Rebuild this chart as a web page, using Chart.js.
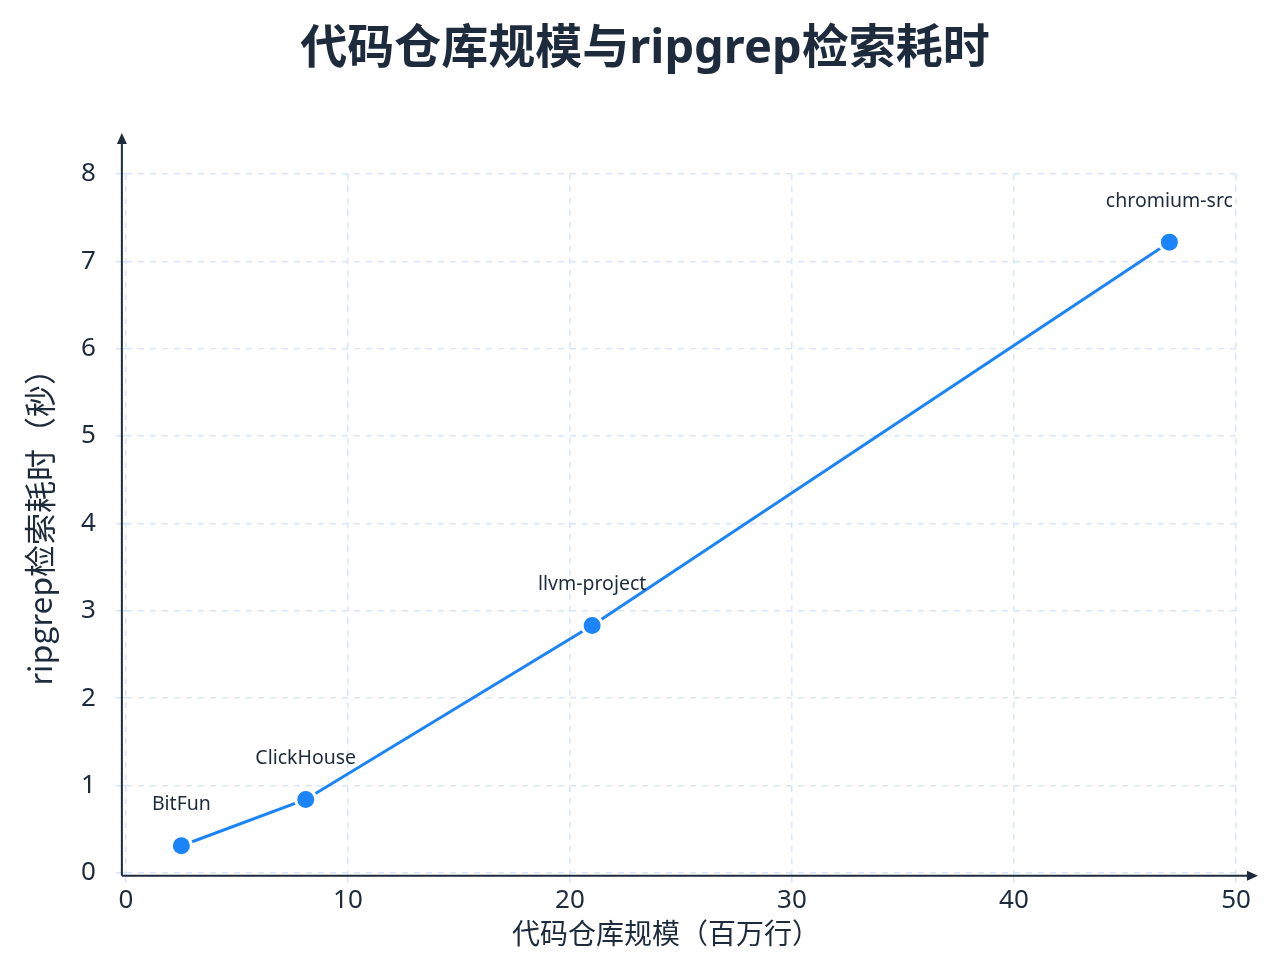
<!DOCTYPE html>
<html>
<head>
<meta charset="utf-8">
<script src="https://cdn.jsdelivr.net/npm/chart.js@4/dist/chart.umd.min.js"></script>
<style>
  body { margin: 0; background: #ffffff; }
  #wrap { width: 1280px; height: 960px; }
</style>
</head>
<body>
<div id="wrap"><canvas id="myChart" width="1280" height="960"></canvas></div>
<script>
//data
const repoNames = ["BitFun", "ClickHouse", "llvm-project", "chromium-src"];
const repoSizes = [2.5, 8.1, 21.0, 47.0]; // 百万行
const searchTimes = [0.31, 0.84, 2.83, 7.22]; // 秒
const xTicks = [0, 10, 20, 30, 40, 50];
const yTicks = [0, 1, 2, 3, 4, 5, 6, 7, 8];

const chartTitle = "代码仓库规模与ripgrep检索耗时";
const xTitle = "代码仓库规模（百万行）";
const yTitle = "ripgrep检索耗时（秒）";

const FONT = "'Noto Sans', 'Noto Sans CJK SC', sans-serif";
const INK = "#1e2b3c";
const BLUE = "#1a84f8";

//------------------titles (drawn by hand so they sit where the picture has them)--------------
const titles = {
  id: "titles",
  afterDraw(chart) {
    const { ctx, chartArea } = chart;
    ctx.save();
    ctx.fillStyle = INK;
    ctx.textAlign = "center";
    ctx.textBaseline = "middle";
    ctx.font = "bold 47px " + FONT;
    ctx.fillText(chartTitle, 645, 50);
    ctx.font = "28px " + FONT;
    ctx.fillText(xTitle, 666, chartArea.bottom + 63);
    ctx.translate(40, (chartArea.top + chartArea.bottom) / 2 - 4);
    ctx.rotate(-Math.PI / 2);
    ctx.font = "32px 'Noto Sans CJK SC', sans-serif";
    ctx.fillText(yTitle, 0, 0);
    ctx.restore();
  },
};

//------------------axis lines with arrows--------------
const axisArrows = {
  id: "axisArrows",
  afterDraw(chart) {
    const { ctx, chartArea } = chart;
    const ax = chartArea.left - 4;
    const ay = chartArea.bottom + 3;
    ctx.save();
    ctx.strokeStyle = INK;
    ctx.fillStyle = INK;
    ctx.lineWidth = 2;
    // y axis
    ctx.beginPath();
    ctx.moveTo(ax, ay);
    ctx.lineTo(ax, chartArea.top - 34);
    ctx.stroke();
    ctx.beginPath();
    ctx.moveTo(ax, chartArea.top - 41);
    ctx.lineTo(ax - 5, chartArea.top - 30);
    ctx.lineTo(ax + 5, chartArea.top - 30);
    ctx.closePath();
    ctx.fill();
    // x axis
    ctx.beginPath();
    ctx.moveTo(ax, ay);
    ctx.lineTo(chartArea.right + 14, ay);
    ctx.stroke();
    ctx.beginPath();
    ctx.moveTo(chartArea.right + 22, ay);
    ctx.lineTo(chartArea.right + 11, ay - 5);
    ctx.lineTo(chartArea.right + 11, ay + 5);
    ctx.closePath();
    ctx.fill();
    ctx.restore();
  },
};

//------------------names above the points--------------
const pointNames = {
  id: "pointNames",
  afterDatasetsDraw(chart) {
    const { ctx } = chart;
    const meta = chart.getDatasetMeta(0);
    ctx.save();
    ctx.font = "19.5px " + FONT;
    ctx.fillStyle = INK;
    ctx.textAlign = "center";
    ctx.textBaseline = "middle";
    meta.data.forEach((pt, i) => {
      ctx.fillText(repoNames[i], pt.x, pt.y - 41);
    });
    ctx.restore();
  },
};

const data = {
  datasets: [
    {
      label: "ripgrep",
      data: repoSizes.map((x, i) => ({ x: x, y: searchTimes[i] })),
      borderColor: BLUE,
      backgroundColor: BLUE,
      borderWidth: 3,
      pointRadius: 10,
      pointBorderWidth: 3,
      pointBorderColor: "#ffffff",
      pointBackgroundColor: BLUE,
      tension: 0,
    },
  ],
};

const gridStyle = {
  color: "#d8e6f8",
  lineWidth: 1.5,
  tickLength: 10,
  tickColor: "#d8e6f8",
};

const config = {
  type: "line",
  data,
  options: {
    responsive: false,
    animation: false,
    layout: { padding: { left: 61, right: 44, top: 174, bottom: 42 } },
    plugins: {
      legend: { display: false },
      tooltip: { enabled: false },
      title: { display: false },
    },
    scales: {
      x: {
        type: "linear",
        min: 0,
        max: 50,
        afterBuildTicks: (axis) => { axis.ticks = xTicks.map((v) => ({ value: v })); },
        border: { display: false, dash: [6, 6] },
        grid: gridStyle,
        ticks: { color: INK, font: { family: FONT, size: 26 }, padding: 2 },
      },
      y: {
        type: "linear",
        min: 0,
        max: 8,
        afterBuildTicks: (axis) => { axis.ticks = yTicks.map((v) => ({ value: v })); },
        border: { display: false, dash: [6, 6] },
        grid: gridStyle,
        ticks: { color: INK, font: { family: FONT, size: 26 }, padding: 20 },
      },
    },
  },
  plugins: [axisArrows, pointNames, titles],
};

const myChart = new Chart(document.getElementById("myChart"), config);
</script>
</body>
</html>
